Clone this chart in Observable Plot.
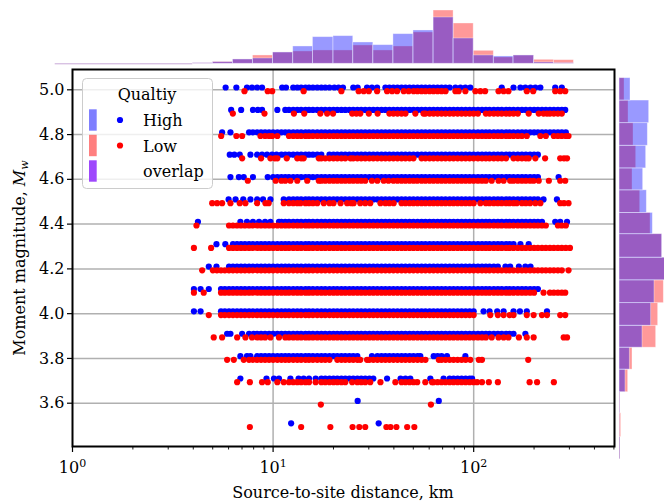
<!DOCTYPE html>
<html><head><meta charset="utf-8">
<script src="https://cdn.jsdelivr.net/npm/d3@7"></script>
<script src="https://cdn.jsdelivr.net/npm/@observablehq/plot@0.6"></script>
<style>
html,body{margin:0;padding:0;background:#fff;overflow:hidden}
#wrap{position:relative;width:664px;height:504px;overflow:hidden}
#wrap svg{position:absolute;left:0;top:0}
</style></head><body><div id="wrap"></div>
<script>
// ---------- data ----------
const levels = [5.0, 4.9, 4.8, 4.7, 4.6, 4.5, 4.4, 4.3, 4.2, 4.1, 4.0, 3.9, 3.8, 3.7, 3.6, 3.5];

const hi50 = [5.8, 6.56, 7.41, 7.85, 8.32, 8.81, 11.1, 11.6, 12.6, 13.2, 13.8, 14.5, 15.1, 15.8, 16.6, 17.4, 18.2, 19.1, 20.2, 21.2, 22.3, 25.1, 26.4, 29.4, 31.1, 33, 36.3, 38, 39.8, 41.7, 43.7, 45.7, 47.9, 50.1, 52.5, 55, 57.5, 60.3, 63.1, 66.1, 69.2, 72.4, 75.9, 81.1, 85.9, 90.9, 96.2, 138, 158, 171, 181, 192, 203, 215, 255, 275];
const lo50 = [7.2, 9.4, 9.9, 14.2, 21.9, 26.7, 28.3, 30, 33, 37, 39.2, 41.5, 44.8, 47.4, 50.2, 52.5, 55, 57.5, 60.3, 63.1, 66.1, 69.2, 72.4, 81.1, 84.1, 90.9, 102, 108, 114, 133, 141, 149, 184, 198, 255, 270, 286];
const hi49 = [6.18, 6.93, 7.94, 8.39, 8.81, 10.5, 11.5, 12, 12.6, 13.2, 13.8, 14.5, 15.1, 15.8, 16.6, 17.4, 18.2, 19.1, 20, 20.9, 21.9, 22.9, 24, 25.1, 26.3, 27.5, 28.8, 30.2, 31.6, 33.1, 34.7, 36.3, 38, 39.8, 41.7, 43.7, 45.7, 47.9, 50.1, 52.5, 55, 57.5, 60.3, 63.1, 66.1, 69.2, 72.4, 75.9, 79.4, 83.2, 87.1, 91.2, 95.5, 100, 105, 110, 115, 120, 126, 132, 138, 145, 151, 158, 166, 174, 182, 191, 200, 209, 219, 229, 240, 251, 263, 275, 286];
const lo49 = [6.3, 9.06, 12.7, 14.3, 17.2, 18.6, 19.9, 24.8, 26, 27.2, 30, 33.2, 38, 39.8, 41.7, 43.7, 45.7, 51.2, 56.2, 57.5, 60.3, 63.1, 66.1, 69.2, 72.4, 75.9, 79.4, 83.2, 87.1, 91.2, 95.5, 100, 105, 115, 120, 126, 132, 138, 145, 151, 158, 166, 188, 211, 223, 232, 240, 251, 263, 275];
const hi48 = [5.57, 6.13, 7.59, 7.94, 8.32, 8.71, 9.12, 9.55, 10, 10.5, 11, 11.5, 12, 12.6, 13.2, 13.8, 14.5, 15.1, 15.8, 16.6, 17.4, 18.2, 19.1, 20, 20.9, 21.9, 22.9, 24, 25.1, 26.3, 27.5, 28.8, 30.2, 31.6, 33.1, 34.7, 36.3, 38, 39.8, 41.7, 43.7, 45.7, 47.9, 50.1, 52.5, 55, 57.5, 60.3, 63.1, 66.1, 69.2, 72.4, 75.9, 79.4, 83.2, 87.1, 91.2, 95.5, 100, 105, 110, 115, 120, 126, 132, 138, 145, 151, 158, 166, 174, 182, 191, 200, 209, 219, 229, 240, 251, 263, 275, 288];
const lo48 = [5.51, 6.56, 7.01, 8.65, 9.12, 9.55, 9.9, 10.5, 12, 12.6, 13.2, 13.8, 14.5, 15.1, 15.8, 16.6, 17.4, 18.2, 19.1, 20, 20.9, 21.9, 22.9, 24, 25.1, 26.3, 27.5, 28.8, 30.2, 31.6, 33.1, 34.7, 36.3, 38, 39.8, 41.7, 43.7, 45.7, 47.9, 50.1, 52.5, 55, 57.5, 60.3, 63.1, 66.1, 69.2, 72.4, 75.9, 79.4, 83.2, 87.1, 91.2, 95.5, 100, 105, 110, 115, 120, 126, 132, 138, 145, 151, 158, 166, 174, 184, 215, 229, 251, 263, 275, 288, 297];
const hi47 = [6.08, 6.41, 6.82, 7.71, 8.32, 8.81, 9.33, 9.89, 10.4, 11, 11.5, 12, 12.6, 13.2, 13.8, 14.5, 15.1, 15.8, 16.6, 17.4, 19.1, 20, 20.9, 21.9, 22.9, 24, 25.1, 26.3, 27.5, 28.8, 30.2, 31.6, 33.1, 34.7, 36.3, 38, 39.8, 41.7, 43.7, 45.7, 47.9, 50.1, 52.5, 55, 57.5, 60.3, 63.1, 66.1, 69.2, 72.4, 75.9, 79.4, 83.2, 87.1, 91.2, 95.5, 100, 105, 110, 115, 120, 126, 132, 138, 145, 151, 158, 166, 174, 182, 191, 200, 209];
const lo47 = [7.01, 8.71, 9.7, 10.2, 10.5, 11.7, 13.2, 13.8, 14.2, 16.9, 17.4, 18.2, 19.1, 20, 20.9, 21.9, 22.9, 24.3, 25.1, 26.3, 27.5, 28.8, 30.2, 31.6, 33.1, 34.7, 36.3, 38, 39.8, 41.7, 43.7, 45.7, 47.9, 50.1, 55, 57.5, 60.3, 63.1, 66.1, 69.2, 72.4, 75.9, 79.4, 83.2, 87.1, 91.2, 95.5, 100, 105, 110, 115, 120, 126, 132, 138, 145, 158, 166, 174, 182, 188, 203, 227, 270, 282, 292];
const hi46 = [6.13, 6.75, 7.14, 7.94, 9.4, 10, 10.5, 11, 11.5, 12, 12.6, 13.2, 13.8, 14.5, 15.1, 15.8, 16.6, 17.4, 18.2, 19.1, 20, 20.9, 21.9, 22.9, 24, 25.1, 26.3, 27.5, 28.8, 30.2, 31.6, 33.1, 34.7, 36.3, 38, 39.8, 41.7, 43.7, 45.7, 47.9, 50.1, 52.5, 55, 57.5, 60.3, 63.1, 66.1, 69.2, 72.4, 75.9, 79.4, 83.2, 87.1, 91.2, 95.5, 100, 105, 110, 115, 120, 126, 132, 138, 145, 151, 158, 166, 174, 182, 191, 200, 209, 265];
const lo46 = [7.48, 10.3, 11, 11.5, 12.2, 13.2, 14.8, 16.9, 17.4, 18.2, 19.1, 20, 20.9, 21.9, 22.9, 24, 25.1, 26.3, 27.5, 28.8, 31.1, 33.1, 35.6, 37.6, 39.8, 41.7, 43.7, 45.7, 47.9, 50.1, 52.3, 55, 57.5, 60.3, 63.1, 66.1, 69.2, 72.4, 75.9, 79.4, 83.2, 87.1, 91.2, 95.5, 100, 105, 110, 115, 123, 133, 141, 152, 158, 166, 174, 182, 191, 199, 211, 237, 270, 286];
const hi45 = [6, 6.5, 7.1, 7.71, 8.32, 8.91, 9.7, 11.3, 12, 12.6, 13.2, 13.8, 14.5, 15.1, 15.8, 16.6, 17.4, 18.2, 19.1, 20, 20.9, 21.9, 22.9, 24, 25.1, 26.3, 27.5, 28.8, 30.2, 31.6, 33.1, 34.7, 36.3, 38, 39.8, 41.7, 43.7, 45.7, 47.9, 50.1, 52.5, 55, 57.5, 60.3, 63.1, 66.1, 69.2, 72.4, 75.9, 79.4, 83.2, 87.1, 91.2, 95.5, 100, 105, 110, 115, 120, 126, 132, 138, 145, 151, 158, 166, 174, 182, 191, 200, 209, 223, 260];
const lo45 = [4.97, 5.26, 5.57, 6.13, 6.82, 7.28, 8.32, 9.16, 9.5, 11.3, 12, 12.6, 13.2, 13.7, 14.5, 15.1, 15.8, 16.6, 17.9, 19.1, 20, 21.7, 23.4, 24.5, 25.2, 27.2, 28.8, 30.5, 34.3, 36.3, 38, 39.9, 43.7, 45.7, 47.9, 50.1, 52.5, 55, 57.5, 60.3, 63.1, 66.1, 69.2, 72.4, 75.9, 79.4, 83.2, 87.1, 91.2, 95.5, 100, 108, 115, 120, 126, 132, 138, 145, 151, 158, 164, 174, 182, 191, 203, 215, 270, 282, 297];
const hi44 = [4.22, 6.87, 7.41, 7.94, 8.51, 9.12, 9.7, 10.7, 11, 11.5, 12, 12.6, 13.2, 13.8, 14.5, 15.1, 15.8, 16.6, 17.4, 18.2, 19.1, 20, 20.9, 21.9, 22.9, 24, 25.1, 26.3, 27.5, 28.8, 30.2, 31.6, 33.1, 34.7, 36.3, 38, 39.8, 41.7, 43.7, 45.7, 47.9, 50.1, 52.5, 55, 57.5, 60.3, 63.1, 66.1, 69.2, 72.4, 75.9, 79.4, 83.2, 87.1, 91.2, 95.5, 100, 105, 110, 115, 120, 126, 132, 138, 145, 151, 158, 166, 174, 182, 191, 200, 209, 219, 255, 270, 292];
const lo44 = [4.15, 6.03, 6.31, 6.61, 6.92, 7.24, 7.59, 7.94, 8.32, 8.71, 9.12, 9.55, 10, 10.5, 11, 11.5, 12, 12.6, 13.2, 13.8, 14.5, 15.1, 15.8, 16.6, 17.4, 18.2, 19.1, 20, 20.9, 21.9, 22.9, 24, 25.1, 26.3, 27.5, 28.8, 30.2, 31.6, 33.1, 34.7, 36.3, 38, 39.8, 41.7, 43.7, 45.7, 47.9, 50.1, 52.5, 55, 57.5, 60.3, 63.1, 66.1, 69.2, 72.4, 75.9, 79.4, 83.2, 87.1, 91.2, 95.5, 100, 105, 110, 115, 120, 126, 132, 138, 145, 151, 158, 166, 174, 182, 191, 200, 209, 219, 229, 263, 275, 288];
const hi43 = [5.22, 5.78, 6.31, 6.61, 6.92, 7.24, 7.59, 7.94, 8.32, 8.71, 9.12, 9.55, 10, 10.5, 11, 11.5, 12, 12.6, 13.2, 13.8, 14.5, 15.1, 15.8, 16.6, 17.4, 18.2, 19.1, 20, 20.9, 21.9, 22.9, 24, 25.1, 26.3, 27.5, 28.8, 30.2, 31.6, 33.1, 34.7, 36.3, 38, 39.8, 41.7, 43.7, 45.7, 47.9, 50.1, 52.5, 55, 57.5, 60.3, 63.1, 66.1, 69.2, 72.4, 75.9, 79.4, 83.2, 87.1, 91.2, 95.5, 100, 105, 110, 115, 120, 126, 132, 138, 145, 151, 158, 171, 188];
const lo43 = [4.03, 4.91, 6.03, 6.31, 6.61, 6.92, 7.24, 7.59, 7.94, 8.32, 8.71, 9.12, 9.55, 10, 10.5, 11, 11.5, 12, 12.6, 13.2, 13.8, 14.5, 15.1, 15.8, 16.6, 17.4, 18.2, 19.1, 20, 20.9, 21.9, 22.9, 24, 25.1, 26.3, 27.5, 28.8, 30.2, 31.6, 33.1, 34.7, 36.3, 38, 39.8, 41.7, 43.7, 45.7, 47.9, 50.1, 52.5, 55, 57.5, 60.3, 63.1, 66.1, 69.2, 72.4, 75.9, 79.4, 83.2, 87.1, 91.2, 95.5, 100, 105, 110, 115, 120, 126, 132, 138, 145, 151, 158, 166, 174, 182, 191, 200, 209, 219, 229, 240, 251, 263, 275, 288, 302];
const hi42 = [4.78, 5.22, 6.03, 6.31, 6.61, 6.92, 7.24, 7.59, 7.94, 8.32, 8.71, 9.12, 9.55, 10, 10.5, 11, 11.5, 12, 12.6, 13.2, 13.8, 14.5, 15.1, 15.8, 16.6, 17.4, 18.2, 19.1, 20, 20.9, 21.9, 22.9, 24, 25.1, 26.3, 27.5, 28.8, 30.2, 31.6, 33.1, 34.7, 36.3, 38, 39.8, 41.7, 43.7, 45.7, 47.9, 50.1, 52.5, 55, 57.5, 60.3, 63.1, 66.1, 69.2, 72.4, 75.9, 79.4, 83.2, 87.1, 91.2, 95.5, 100, 105, 110, 115, 120, 126, 132, 144, 152, 168, 181, 192];
const lo42 = [4.43, 5.01, 5.25, 5.5, 5.75, 6.03, 6.31, 6.61, 6.92, 7.24, 7.59, 7.94, 8.32, 8.71, 9.12, 9.55, 10, 10.5, 11, 11.5, 12, 12.6, 13.2, 13.8, 14.5, 15.1, 15.8, 16.6, 17.4, 18.2, 19.1, 20, 20.9, 21.9, 22.9, 24, 25.1, 26.3, 27.5, 28.8, 30.2, 31.6, 33.1, 34.7, 36.3, 38, 39.8, 41.7, 43.7, 45.7, 47.9, 50.1, 52.5, 55, 57.5, 60.3, 63.1, 66.1, 69.2, 72.4, 75.9, 79.4, 83.2, 87.1, 91.2, 95.5, 100, 105, 110, 115, 120, 126, 132, 138, 145, 151, 158, 166, 174, 182, 191, 200, 209, 219, 229, 240, 251, 263, 275, 297];
const hi41 = [4.03, 4.35, 4.78, 5.5, 5.75, 6.03, 6.31, 6.61, 6.92, 7.24, 7.59, 7.94, 8.32, 8.71, 9.12, 9.55, 10, 10.5, 11, 11.5, 12, 12.6, 13.2, 13.8, 14.5, 15.1, 15.8, 16.6, 17.4, 18.2, 19.1, 20, 20.9, 21.9, 22.9, 24, 25.1, 26.3, 27.5, 28.8, 30.2, 31.6, 33.1, 34.7, 36.3, 38, 39.8, 41.7, 43.7, 45.7, 47.9, 50.1, 52.5, 55, 57.5, 60.3, 63.1, 66.1, 69.2, 72.4, 75.9, 79.4, 83.2, 87.1, 91.2, 95.5, 100, 105, 110, 115, 120, 126, 132, 138, 145, 151, 158, 166, 174, 182, 191, 200, 209];
const lo41 = [4.03, 4.51, 5.5, 5.75, 6.03, 6.31, 6.61, 6.92, 7.24, 7.59, 7.94, 8.32, 8.71, 9.12, 9.55, 10, 10.5, 11, 11.5, 12, 12.6, 13.2, 13.8, 14.5, 15.1, 15.8, 16.6, 17.4, 18.2, 19.1, 20, 20.9, 21.9, 22.9, 24, 25.1, 26.3, 27.5, 28.8, 30.2, 31.6, 33.1, 34.7, 36.3, 38, 39.8, 41.7, 43.7, 45.7, 47.9, 50.1, 52.5, 55, 57.5, 60.3, 63.1, 66.1, 69.2, 72.4, 75.9, 79.4, 83.2, 87.1, 91.2, 95.5, 100, 105, 110, 115, 120, 126, 132, 138, 145, 151, 158, 166, 174, 182, 191, 200, 223, 240, 251, 263, 275, 286];
const hi40 = [4.03, 4.35, 5.5, 5.75, 6.03, 6.31, 6.61, 6.92, 7.24, 7.59, 7.94, 8.32, 8.71, 9.12, 9.55, 10, 10.5, 11, 11.5, 12, 12.6, 13.2, 13.8, 14.5, 15.1, 15.8, 16.6, 17.4, 18.2, 19.1, 20, 20.9, 21.9, 22.9, 24, 25.1, 26.3, 27.5, 28.8, 30.2, 31.6, 33.1, 34.7, 36.3, 38, 39.8, 41.7, 43.7, 45.7, 47.9, 50.1, 52.5, 55, 57.5, 60.3, 63.1, 66.1, 69.2, 72.4, 75.9, 79.4, 83.2, 87.1, 91.2, 95.5, 100, 112, 120, 131, 141, 158, 170, 184, 232];
const lo40 = [4.78, 5.5, 5.75, 6.03, 6.31, 6.61, 6.92, 7.24, 7.59, 7.94, 8.32, 8.71, 9.12, 9.55, 10, 10.5, 11, 11.5, 12, 12.6, 13.2, 13.8, 14.5, 15.1, 15.8, 16.6, 17.4, 18.2, 19.1, 20, 20.9, 21.9, 22.9, 24, 25.1, 26.3, 27.5, 28.8, 30.2, 31.6, 33.1, 34.7, 36.3, 38, 39.8, 41.7, 43.7, 45.7, 47.9, 50.1, 52.5, 55, 57.5, 60.3, 63.1, 66.1, 69.2, 72.4, 75.9, 79.4, 83.2, 87.1, 91.2, 95.5, 100, 121, 132, 141, 151, 158, 184, 199, 219, 232, 270, 286];
const hi39 = [5.9, 6.13, 7.01, 7.59, 8, 8.32, 8.71, 9.12, 9.55, 10, 10.5, 11, 11.5, 12, 12.6, 13.2, 13.8, 14.5, 15.1, 15.8, 16.6, 17.4, 18.2, 19.1, 20, 20.9, 21.9, 22.9, 24, 25.1, 26.3, 27.5, 28.8, 30.2, 31.6, 33.1, 34.7, 36.3, 38, 39.8, 41.7, 43.7, 45.7, 47.9, 50.1, 52.5, 55, 57.5, 60.3, 63.1, 66.1, 69.2, 72.4, 75.9, 79.4, 83.2, 87.1, 91.2, 95.5, 100, 105, 110, 115, 120, 126, 132, 138, 145, 151, 158, 181];
const lo39 = [5.06, 5.57, 6.62, 7.28, 7.85, 8.32, 8.71, 9.12, 9.7, 10.7, 11.5, 12, 12.6, 13.2, 13.8, 14.5, 15.1, 15.8, 16.6, 17.4, 18.2, 19.1, 20, 20.9, 21.9, 22.9, 24, 25.1, 26.3, 27.5, 28.8, 30.2, 31.6, 33.1, 34.7, 36.3, 38, 39.8, 41.7, 43.7, 45.7, 47.9, 50.1, 52.5, 55, 57.5, 60.3, 63.1, 66.1, 69.2, 72.4, 75.9, 79.4, 83.2, 87.1, 91.2, 95.5, 100, 105, 110, 115, 123, 133, 141, 149, 168, 184, 199, 281, 292];
const hi38 = [6.87, 7.41, 7.71, 8.32, 8.71, 9.12, 9.55, 10, 10.5, 11, 11.5, 12, 12.6, 13.2, 13.8, 14.5, 15.1, 15.8, 16.6, 17.4, 18.2, 19.1, 20, 20.9, 21.9, 22.9, 24, 25.1, 26.3, 31.1, 33.1, 34.7, 36.3, 38, 39.8, 41.7, 43.7, 45.7, 47.9, 50.1, 52.5, 54.2, 63.2, 66.1, 69.2, 73.6, 90.9];
const lo38 = [5.9, 6.37, 7.14, 7.59, 7.94, 8.32, 8.71, 9.12, 9.55, 10, 10.5, 11, 11.5, 12, 12.6, 13.2, 13.8, 14.5, 15.1, 15.8, 16.6, 17.4, 18.2, 19.1, 20.9, 21.9, 22.9, 24, 25.1, 26.3, 27.2, 29.4, 30.2, 31.6, 33.1, 34.7, 36.3, 38, 39.8, 41.7, 43.7, 45.7, 47.9, 50.1, 52.5, 55, 57.5, 67, 69.2, 72.4, 75.9, 79.4, 83.2, 87.1, 91.2, 96.2, 106, 110, 187];
const hi37 = [6.87, 9.27, 10.1, 10.7, 12.2, 13.4, 14.2, 15.1, 16.3, 17.4, 18.2, 19.1, 20, 20.9, 21.9, 22.9, 24, 25.1, 26.3, 27.5, 28.8, 30.2, 31.6, 37, 43.2, 45.7, 48.3, 60.8, 70.8, 75.9, 79.4, 83.2, 87.1, 91.2, 95.5, 98.2];
const lo37 = [6.62, 7.66, 8.81, 9.4, 10.5, 11.3, 12, 12.6, 13.2, 13.8, 14.5, 15.1, 16.3, 17.4, 18.2, 19.1, 20, 20.9, 21.9, 22.9, 24.8, 26.3, 27.5, 28.8, 30.5, 34.3, 40.7, 43.7, 45.7, 47.9, 50.1, 52.3, 57.4, 62, 63.1, 66.1, 69.2, 72.4, 75.9, 79.4, 83.2, 87.1, 91.2, 95.5, 100, 104, 110, 119, 132, 190, 207, 251];
const hi36 = [26.4, 67];
const lo36 = [17.3, 61.2];
const hi35 = [12.3, 33.6];
const lo35 = [7.66, 13.8, 19.3, 24.9, 26.9, 28.8, 36.7, 38.5, 41.2, 46.6, 50.6];

const highRows = [hi50, hi49, hi48, hi47, hi46, hi45, hi44, hi43, hi42, hi41, hi40, hi39, hi38, hi37, hi36, hi35];
const lowRows  = [lo50, lo49, lo48, lo47, lo46, lo45, lo44, lo43, lo42, lo41, lo40, lo39, lo38, lo37, lo36, lo35];

// marginal histogram of distance (bin edges in km; heights in relative units)
const topEdges = [0.82, 3.98, 5.01, 6.31, 7.94, 10, 12.6, 15.8, 20, 25.1, 31.6, 39.8, 50.1, 63.1, 79.4, 100, 126, 158, 200, 251, 316];
const topHigh = [0, 2, 5, 13, 16, 34, 52, 80, 83, 64, 56, 89, 100, 139, 76, 25, 22, 25, 4, 2];
const topLow  = [0, 2, 6, 13, 25, 34, 37, 40, 40, 55, 40, 52, 94, 160, 121, 39, 19, 25, 12, 11];

// marginal histogram of magnitude (bin edges in Mw; widths in relative units)
const rightEdges = [3.35, 3.449, 3.555, 3.649, 3.75, 3.848, 3.946, 4.047, 4.149, 4.25, 4.355, 4.45, 4.551, 4.649, 4.75, 4.851, 4.952, 5.052];
const rightHigh = [0, 1, 2, 18, 31, 69, 95, 105, 150, 128, 100, 82, 71, 80, 85, 89, 33];
const rightLow  = [0, 5, 3, 26, 39, 110, 116, 133, 150, 128, 93, 62, 39, 50, 42, 27, 15];

const xMajor = [1, 10, 100];
const xMinor = [2, 3, 4, 5, 6, 7, 8, 9, 20, 30, 40, 50, 60, 70, 80, 90, 200, 300, 400, 500];
const yTicks = [3.6, 3.8, 4.0, 4.2, 4.4, 4.6, 4.8, 5.0];
const legendTitle = "Qualtiy";
const legendLabels = ["High", "Low", "overlap"];
const xLabel = "Source-to-site distance, km";
const yLabel = "Moment magnitude, ";

// ---------- build ----------
const FONT = '"DejaVu Serif", "Liberation Serif", serif';
const FS = 16;
const X_DOMAIN = [1, 503.5];
const Y_DOMAIN = [3.4066, 5.0907];
const BLUE = "#0000ff", RED = "#ff0000";

const points = [];
levels.forEach((m, i) => {
  highRows[i].forEach(d => points.push({d, m, q: "High"}));
  lowRows[i].forEach(d => points.push({d, m, q: "Low"}));
});

const wrap = document.getElementById("wrap");

const main = Plot.plot({
  width: 664, height: 504,
  marginLeft: 72, marginRight: 50, marginTop: 69, marginBottom: 58,
  style: {fontFamily: FONT, fontSize: FS + "px", background: "white", color: "black", overflow: "visible"},
  x: {type: "log", domain: X_DOMAIN},
  y: {domain: Y_DOMAIN},
  marks: [
    Plot.gridX(xMajor.slice(1), {stroke: "#b0b0b0", strokeOpacity: 1, strokeWidth: 1.5}),
    Plot.gridY(yTicks, {stroke: "#b0b0b0", strokeOpacity: 1, strokeWidth: 1.5}),
    Plot.dot(points.filter(p => p.q === "High"), {x: "d", y: "m", r: 3.1, fill: BLUE, dy: -2.3}),
    Plot.dot(points.filter(p => p.q === "Low"), {x: "d", y: "m", r: 3.1, fill: RED, dy: 1.4}),
    Plot.axisX(xMajor, {tickSize: 6, tickPadding: 9, strokeWidth: 1.2, label: null,
      tickFormat: d => "10^" + Math.round(Math.log10(d)), fontSize: FS}),
    Plot.axisX(xMinor, {tickSize: 3.5, strokeWidth: 0.9, label: null, tickFormat: () => ""}),
    Plot.axisY(yTicks, {tickSize: 5, tickPadding: 3, strokeWidth: 1.2, label: null,
      tickFormat: d3.format(".1f"), fontSize: FS}),
    Plot.frame({stroke: "black", strokeWidth: 2})
  ]
});
wrap.appendChild(main);

// superscript exponents on x tick labels
main.querySelectorAll('g[aria-label="x-axis tick label"] text').forEach(t => {
  const m = /^10\^(\d+)$/.exec(t.textContent);
  if (!m) return;
  t.textContent = "";
  const a = document.createElementNS("http://www.w3.org/2000/svg", "tspan");
  a.textContent = "10";
  const b = document.createElementNS("http://www.w3.org/2000/svg", "tspan");
  b.textContent = m[1];
  b.setAttribute("dy", "-6");
  b.setAttribute("font-size", "11");
  t.appendChild(a); t.appendChild(b);
});

// axis titles
const ms = d3.select(main);
ms.append("text")
  .attr("x", 343).attr("y", 498)
  .attr("text-anchor", "middle")
  .attr("font-family", FONT).attr("font-size", FS).attr("fill", "black")
  .text(xLabel);
const yl = ms.append("text")
  .attr("transform", "translate(25,258) rotate(-90)")
  .attr("text-anchor", "middle")
  .attr("font-family", FONT).attr("font-size", FS).attr("fill", "black");
yl.append("tspan").text(yLabel);
yl.append("tspan").attr("font-style", "italic").text("M");
yl.append("tspan").attr("font-style", "italic").attr("font-size", 11).attr("dy", 3).text("w");

// top marginal histogram
const topBins = topHigh.map((v, i) => ({x1: topEdges[i], x2: topEdges[i + 1], hi: v, lo: topLow[i]}));
const topPlot = Plot.plot({
  width: 664, height: 69,
  marginLeft: 72, marginRight: 50, marginTop: 0, marginBottom: 5.7,
  style: {background: "transparent", overflow: "visible"},
  axis: null,
  x: {type: "log", domain: X_DOMAIN},
  y: {domain: [0, 190]},
  marks: [
    Plot.ruleY(topBins.filter(b => b.hi === 0 && b.lo === 0), {y: 0, x1: "x1", x2: "x2", stroke: "#c8a8d8", strokeWidth: 1}),
    Plot.rect(topBins, {x1: "x1", x2: "x2", y1: 0, y2: "lo", fill: RED, fillOpacity: 0.4, stroke: "white", strokeOpacity: 0.45, strokeWidth: 0.8}),
    Plot.rect(topBins, {x1: "x1", x2: "x2", y1: 0, y2: "hi", fill: BLUE, fillOpacity: 0.4, stroke: "white", strokeOpacity: 0.45, strokeWidth: 0.8})
  ]
});
wrap.appendChild(topPlot);

// right marginal histogram
const rightBins = rightHigh.map((v, i) => ({y1: rightEdges[i], y2: rightEdges[i + 1], hi: v, lo: rightLow[i]}));
const rightPlot = Plot.plot({
  width: 664, height: 504,
  marginLeft: 619, marginRight: 0, marginTop: 69, marginBottom: 58,
  style: {background: "transparent", overflow: "hidden"},
  axis: null,
  x: {domain: [0, 135]},
  y: {domain: Y_DOMAIN},
  marks: [
    Plot.ruleX(rightBins.filter(b => b.hi === 0 && b.lo === 0), {x: 0, y1: "y1", y2: "y2", stroke: "#c8a8d8", strokeWidth: 1}),
    Plot.rect(rightBins, {y1: "y1", y2: "y2", x1: 0, x2: "lo", fill: RED, fillOpacity: 0.4, stroke: "white", strokeOpacity: 0.45, strokeWidth: 0.8}),
    Plot.rect(rightBins, {y1: "y1", y2: "y2", x1: 0, x2: "hi", fill: BLUE, fillOpacity: 0.4, stroke: "white", strokeOpacity: 0.45, strokeWidth: 0.8})
  ]
});
wrap.appendChild(rightPlot);

// legend
const lg = d3.select(wrap).append("svg")
  .attr("width", 664).attr("height", 504)
  .style("font-family", FONT).style("font-size", FS + "px");
lg.append("rect").attr("x", 82.5).attr("y", 78.5).attr("width", 130).attr("height", 110).attr("rx", 4)
  .attr("fill", "white").attr("fill-opacity", 0.8).attr("stroke", "#cccccc").attr("stroke-width", 1);
lg.append("text").attr("x", 147).attr("y", 100).attr("text-anchor", "middle").text(legendTitle);
const patchColors = ["rgba(0,0,255,0.5)", "rgba(255,0,0,0.5)", "rgb(158,72,252)"];
const dotColors = [BLUE, RED, null];
legendLabels.forEach((lab, i) => {
  const yc = 120 + i * 25.5;
  lg.append("rect").attr("x", 89).attr("y", yc - 10.7).attr("width", 7.7).attr("height", 21.4).attr("fill", patchColors[i]);
  if (dotColors[i]) lg.append("circle").attr("cx", 120).attr("cy", yc).attr("r", 3.1).attr("fill", dotColors[i]);
  lg.append("text").attr("x", 143).attr("y", yc + 6).text(lab);
});
</script>
</body></html>
